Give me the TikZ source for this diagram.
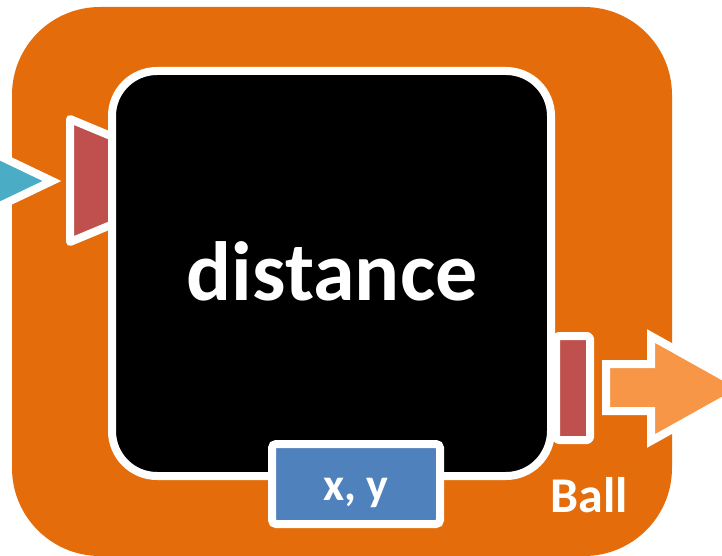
\documentclass[tikz,border=0pt]{standalone}
\usepackage{fontspec}
\setmainfont{Carlito}
\definecolor{ballorange}{HTML}{E46C0A}
\definecolor{portred}{HTML}{C0504D}
\definecolor{portblue}{HTML}{4F81BD}
\definecolor{inteal}{HTML}{4BACC6}
\definecolor{outorange}{HTML}{F79646}
\begin{document}
\begin{tikzpicture}[x=1pt,y=-1pt,
  outline/.style={draw=white,line width=8pt},
  port/.style={outline,fill=portred,line join=round},
  lbl/.style={text=white,font=\bfseries,inner sep=0pt,anchor=base}]
\useasboundingbox (0,0) rectangle (722,556);
\begin{scope}
\clip (0,0) rectangle (722,556);
% the Ball component
\node[fill=ballorange,rounded corners=88pt,minimum width=660pt,minimum height=549pt,inner sep=0pt] (ball) at (342,281.5) {};
% incoming arrow head on the left
\coordinate (inA) at (-40,137);
\coordinate (inB) at (-40,225);
\coordinate (inTip) at (52,181);
\draw[outline,fill=inteal,line join=miter] (inA) -- (inTip) -- (inB) -- cycle;
% input port (trapezoid)
\coordinate (tpA) at (70,119);
\coordinate (tpB) at (118,139);
\coordinate (tpC) at (118,222);
\coordinate (tpD) at (70,242);
\draw[port] (tpA) -- (tpB) -- (tpC) -- (tpD) -- cycle;
% output port
\node[port,rounded corners=3pt,minimum width=34pt,minimum height=104pt,inner sep=0pt] (outport) at (573,388) {};
% core block
\node[outline,fill=black,rounded corners=45pt,minimum width=439pt,minimum height=405pt,inner sep=0pt] (core) at (331.5,273.5) {};
\node[lbl,font=\bfseries\fontsize{84}{84}\selectfont] (corelbl) at (332,300) {distance};
% state box
\node[outline,fill=portblue,rounded corners=4pt,minimum width=168pt,minimum height=80pt,inner sep=0pt] (state) at (356,484) {};
\node[lbl,font=\bfseries\fontsize{46}{46}\selectfont] (statelbl) at (356,500) {x, y};
% outgoing arrow
\draw[outline,fill=outorange,line join=miter]
  (606,364) -- (651,364) -- (651,336) -- (745,388.5) -- (651,441) -- (651,411) -- (606,411) -- cycle;
% component name
\node[lbl,font=\bfseries\fontsize{50}{50}\selectfont] (balllbl) at (589,512) {Ball};
\end{scope}
\end{tikzpicture}
\end{document}
